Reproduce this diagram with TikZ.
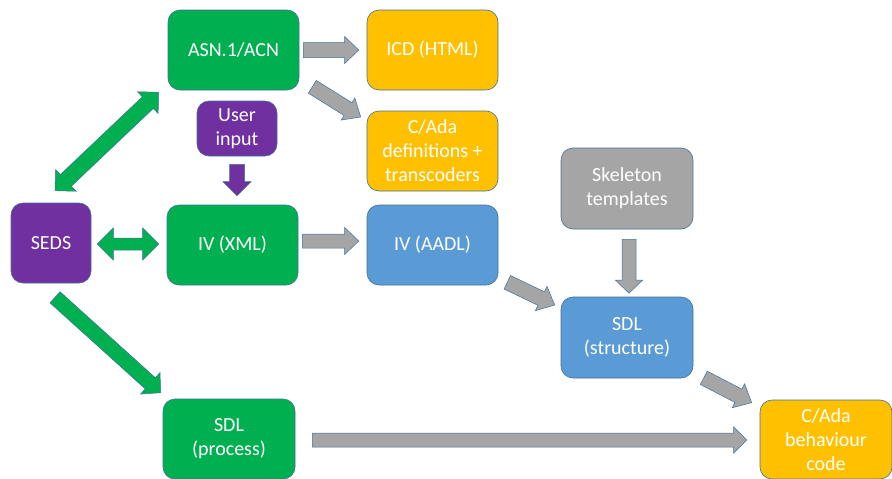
\documentclass[tikz,border=0pt]{standalone}
\usepackage{fontspec}
\setmainfont{Carlito}
\usetikzlibrary{calc}
\definecolor{cgreen}{HTML}{00B050}
\definecolor{cgold}{HTML}{FFC000}
\definecolor{cblue}{HTML}{5B9BD5}
\definecolor{cpurple}{HTML}{7030A0}
\definecolor{cgray}{HTML}{A5A5A5}
\definecolor{cedge}{HTML}{41719C}
\newcommand\blockarrow[6]{%
  \coordinate (hb) at ($(#3)!#6!(#2)$);
  \draw[#1] ($(#2)!#4!90:(#3)$) -- ($(hb)!#4!90:(#3)$) -- ($(hb)!#5!90:(#3)$) -- (#3)
    -- ($(hb)!#5!-90:(#3)$) -- ($(hb)!#4!-90:(#3)$) -- ($(#2)!#4!-90:(#3)$) -- cycle;}
\newcommand\dblarrow[6]{%
  \coordinate (ha) at ($(#2)!#6!(#3)$);
  \coordinate (hb) at ($(#3)!#6!(#2)$);
  \draw[#1] (#2) -- ($(ha)!#5!90:(#3)$) -- ($(ha)!#4!90:(#3)$) -- ($(hb)!#4!-90:(#2)$)
    -- ($(hb)!#5!-90:(#2)$) -- (#3) -- ($(hb)!#5!90:(#2)$) -- ($(hb)!#4!90:(#2)$)
    -- ($(ha)!#4!-90:(#3)$) -- ($(ha)!#5!-90:(#3)$) -- cycle;}
\tikzset{
  box/.style={rounded corners=12pt, draw=cedge, line width=0.6pt, text=white,
    align=center, font=\fontsize{20}{24}\selectfont, inner sep=0pt,
    minimum width=131pt, minimum height=80pt},
  greenbox/.style={box, fill=cgreen},
  goldbox/.style={box, fill=cgold},
  bluebox/.style={box, fill=cblue},
  purplebox/.style={box, fill=cpurple},
  graybox/.style={box, fill=cgray},
  grayarrow/.style={fill=cgray, draw=cedge, line width=0.5pt},
  greenarrow/.style={fill=cgreen, draw=cedge, line width=0.5pt},
  purplearrow/.style={fill=cpurple, draw=cedge, line width=0.5pt},
}
\begin{document}
\begin{tikzpicture}[x=1pt, y=-1pt]
\useasboundingbox (0,0) rectangle (892,479);
% nodes
\node[greenbox] (asn) at (233.5,50) {ASN.1/ACN};
\node[goldbox] (icd) at (432.5,50) {ICD (HTML)};
\node[purplebox, minimum width=80pt, minimum height=55pt] (user) at (237,128.5) {User\\input};
\node[goldbox] (cdef) at (432.5,151) {C/Ada\\definitions +\\transcoders};
\node[purplebox, minimum width=80pt] (seds) at (51,243) {SEDS};
\node[greenbox] (ivxml) at (232.5,245) {IV (XML)};
\node[bluebox] (ivaadl) at (432.5,245) {IV (AADL)};
\node[graybox, minimum width=132pt, minimum height=81pt] (skel) at (627,188.5) {Skeleton\\templates};
\node[bluebox, minimum width=132pt, minimum height=81pt] (sdls) at (627,337.5) {SDL\\(structure)};
\node[greenbox, minimum width=132pt] (sdlp) at (229,439) {SDL\\(process)};
\node[goldbox, minimum width=132pt, minimum height=79pt] (cbeh) at (826,439.5) {C/Ada\\behaviour\\code};
% arrow end points
\coordinate (a1s) at ($(asn.east)+(4,0)$);
\coordinate (a1t) at ($(icd.west)+(-8,0)$);
\coordinate (a2s) at ($(asn.south east)+(13,-3.5)$);
\coordinate (a2t) at ($(cdef.west)+(-6,-34)$);
\coordinate (a3s) at ($(seds.north)+(4,-12)$);
\coordinate (a3t) at ($(asn.south west)+(-9,2)$);
\coordinate (a4s) at ($(user.south)+(0,8)$);
\coordinate (a4t) at ($(user.south |- ivxml.north)+(0,-9)$);
\coordinate (a5s) at ($(seds.east)+(6,1)$);
\coordinate (a5t) at ($(ivxml.west)+(-8,-1)$);
\coordinate (a6s) at ($(ivxml.east)+(4,-4)$);
\coordinate (a6t) at ($(ivaadl.west)+(-8,-4)$);
\coordinate (a7s) at ($(seds.south)+(4,14)$);
\coordinate (a7t) at ($(sdlp.north west)+(-2,-6)$);
\coordinate (a8s) at ($(sdlp.east)+(17,1)$);
\coordinate (a8t) at ($(cbeh.west)+(-13,0.5)$);
\coordinate (a9s) at ($(ivaadl.south east)+(9,-3)$);
\coordinate (a9t) at ($(sdls.west)+(-6,-32.5)$);
\coordinate (a10s) at ($(skel.south)+(2,10)$);
\coordinate (a10t) at ($(sdls.north)+(2,-3.5)$);
\coordinate (a11s) at ($(sdls.south east)+(10.5,-0.5)$);
\coordinate (a11t) at ($(cbeh.north west)+(-8,3)$);
% arrows
\blockarrow{grayarrow}{a1s}{a1t}{7.5pt}{13.5pt}{14pt}
\blockarrow{grayarrow}{a2s}{a2t}{7.5pt}{13pt}{15pt}
\dblarrow{greenarrow}{a3s}{a3t}{8pt}{15pt}{15pt}
\blockarrow{purplearrow}{a4s}{a4t}{7.5pt}{14pt}{14pt}
\dblarrow{greenarrow}{a5s}{a5t}{6pt}{16pt}{16pt}
\blockarrow{grayarrow}{a6s}{a6t}{7pt}{13.5pt}{14pt}
\blockarrow{greenarrow}{a7s}{a7t}{7.5pt}{14.5pt}{14pt}
\blockarrow{grayarrow}{a8s}{a8t}{7pt}{13pt}{13pt}
\blockarrow{grayarrow}{a9s}{a9t}{7.5pt}{13.5pt}{15pt}
\blockarrow{grayarrow}{a10s}{a10t}{7pt}{13.5pt}{13pt}
\blockarrow{grayarrow}{a11s}{a11t}{7.5pt}{13.5pt}{15pt}
\end{tikzpicture}
\end{document}
